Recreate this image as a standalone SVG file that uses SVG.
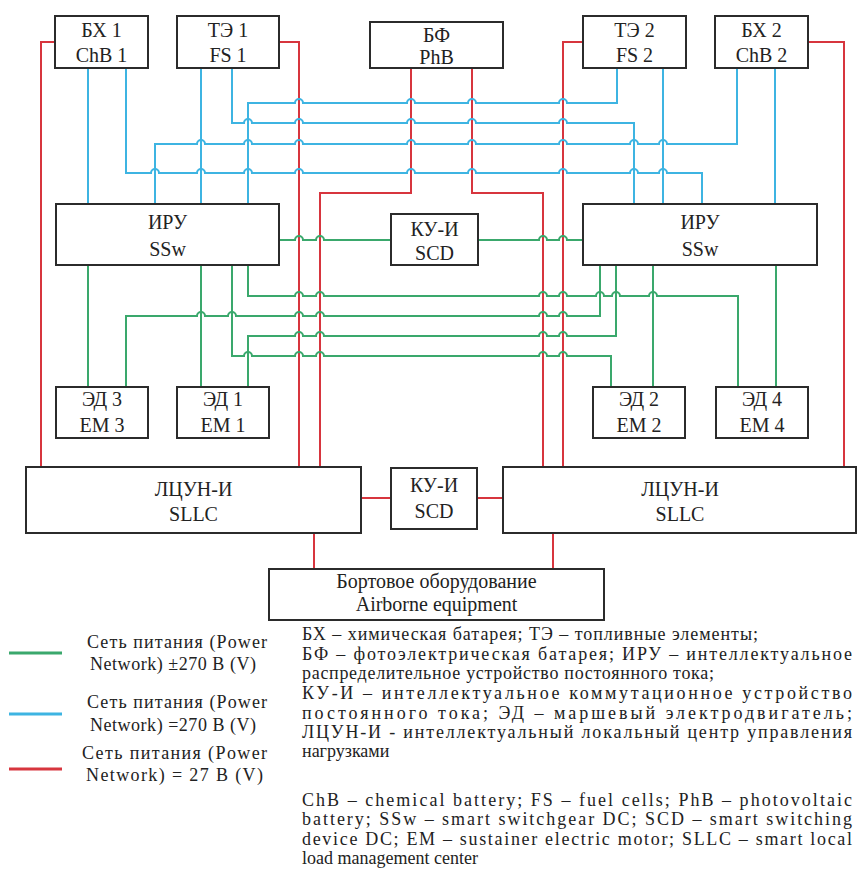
<svg xmlns="http://www.w3.org/2000/svg" width="858" height="889" viewBox="0 0 858 889">
<style>
.box{fill:#fff;stroke:#2b2b2b;stroke-width:2}
.lbl{font-size:20px;text-anchor:middle;fill:#222}
.leg{font-size:18px;fill:#222}
.r{fill:none;stroke:#d7353e;stroke-width:2}
.b{fill:none;stroke:#3db4e2;stroke-width:2}
.g{fill:none;stroke:#3aa86c;stroke-width:2}
</style>
<rect width="858" height="889" fill="#fff"/>
<g id="connectors">
<g class="r">
<path d="M55,42 H41 V467"/>
<path d="M279,42 H299 V467"/>
<path d="M411,68 V193 H320 V467"/>
<path d="M472,68 V193 H543 V467"/>
<path d="M583,42 H563 V467"/>
<path d="M808,42 H844 V467"/>
<path d="M361,498 H391 M477,498 H503"/>
<path d="M314,533 V569 M553,533 V569"/>
</g>
<g class="b">
<path d="M88,68 V204"/>
<path d="M201,68 V204"/>
<path d="M663,68 V204"/>
<path d="M775,68 V204"/>
<path d="M126,68 V173 H151 a4,4 0 0 1 8,0 H197 a4,4 0 0 1 8,0 H244 a4,4 0 0 1 8,0 H295 a4,4 0 0 1 8,0 H407 a4,4 0 0 1 8,0 H468 a4,4 0 0 1 8,0 H559 a4,4 0 0 1 8,0 H630 a4,4 0 0 1 8,0 H659 a4,4 0 0 1 8,0 H702 V204"/>
<path d="M232,68 V123 H244 a4,4 0 0 1 8,0 H295 a4,4 0 0 1 8,0 H407 a4,4 0 0 1 8,0 H468 a4,4 0 0 1 8,0 H559 a4,4 0 0 1 8,0 H634 V204"/>
<path d="M248,204 V103 H295 a4,4 0 0 1 8,0 H407 a4,4 0 0 1 8,0 H468 a4,4 0 0 1 8,0 H559 a4,4 0 0 1 8,0 H617 V68"/>
<path d="M155,204 V144 H197 a4,4 0 0 1 8,0 H244 a4,4 0 0 1 8,0 H295 a4,4 0 0 1 8,0 H407 a4,4 0 0 1 8,0 H468 a4,4 0 0 1 8,0 H559 a4,4 0 0 1 8,0 H630 a4,4 0 0 1 8,0 H659 a4,4 0 0 1 8,0 H737 V68"/>
</g>
<g class="g">
<path d="M279,240 H295 a4,4 0 0 1 8,0 H316 a4,4 0 0 1 8,0 H391"/>
<path d="M478,240 H539 a4,4 0 0 1 8,0 H559 a4,4 0 0 1 8,0 H583"/>
<path d="M88,265 V387"/>
<path d="M201,265 V387"/>
<path d="M653,265 V387"/>
<path d="M776,265 V387"/>
<path d="M126,387 V316 H197 a4,4 0 0 1 8,0 H228 a4,4 0 0 1 8,0 H295 a4,4 0 0 1 8,0 H316 a4,4 0 0 1 8,0 H539 a4,4 0 0 1 8,0 H559 a4,4 0 0 1 8,0 H600 V265"/>
<path d="M232,265 V356 H244 a4,4 0 0 1 8,0 H295 a4,4 0 0 1 8,0 H316 a4,4 0 0 1 8,0 H539 a4,4 0 0 1 8,0 H559 a4,4 0 0 1 8,0 H611 V387"/>
<path d="M248,265 V296 H295 a4,4 0 0 1 8,0 H316 a4,4 0 0 1 8,0 H539 a4,4 0 0 1 8,0 H559 a4,4 0 0 1 8,0 H596 a4,4 0 0 1 8,0 H612 a4,4 0 0 1 8,0 H649 a4,4 0 0 1 8,0 H738 V387"/>
<path d="M248,387 V336 H295 a4,4 0 0 1 8,0 H316 a4,4 0 0 1 8,0 H539 a4,4 0 0 1 8,0 H559 a4,4 0 0 1 8,0 H616 V265"/>
</g>
</g>
<g font-family="Liberation Serif, Times New Roman, serif">
<g id="bx1"><rect class="box" x="55" y="16" width="93" height="52"/><text class="lbl" x="101.5" y="37">БХ 1</text><text class="lbl" x="101.5" y="62">ChB 1</text></g>
<g id="te1"><rect class="box" x="177" y="16" width="102" height="52"/><text class="lbl" x="228" y="37">ТЭ 1</text><text class="lbl" x="228" y="62">FS 1</text></g>
<g id="bf"><rect class="box" x="370" y="22" width="133" height="46"/><text class="lbl" x="436.5" y="42">БФ</text><text class="lbl" x="436.5" y="64">PhB</text></g>
<g id="te2"><rect class="box" x="583" y="16" width="103" height="52"/><text class="lbl" x="634.5" y="37">ТЭ 2</text><text class="lbl" x="634.5" y="62">FS 2</text></g>
<g id="bx2"><rect class="box" x="715" y="16" width="93" height="52"/><text class="lbl" x="761.5" y="37">БХ 2</text><text class="lbl" x="761.5" y="62">ChB 2</text></g>
<g id="iru1"><rect class="box" x="56" y="204" width="223" height="61"/><text class="lbl" x="167.5" y="229">ИРУ</text><text class="lbl" x="167.5" y="256">SSw</text></g>
<g id="ku1"><rect class="box" x="391" y="214" width="87" height="51"/><text class="lbl" x="434.5" y="236">КУ-И</text><text class="lbl" x="434.5" y="260">SCD</text></g>
<g id="iru2"><rect class="box" x="583" y="204" width="234" height="61"/><text class="lbl" x="700" y="229">ИРУ</text><text class="lbl" x="700" y="256">SSw</text></g>
<g id="ed3"><rect class="box" x="56" y="387" width="92" height="51"/><text class="lbl" x="102" y="406">ЭД 3</text><text class="lbl" x="102" y="432">EM 3</text></g>
<g id="ed1"><rect class="box" x="177" y="387" width="92" height="51"/><text class="lbl" x="223" y="406">ЭД 1</text><text class="lbl" x="223" y="432">EM 1</text></g>
<g id="ed2"><rect class="box" x="593" y="387" width="92" height="51"/><text class="lbl" x="639" y="406">ЭД 2</text><text class="lbl" x="639" y="432">EM 2</text></g>
<g id="ed4"><rect class="box" x="716" y="387" width="92" height="51"/><text class="lbl" x="762" y="406">ЭД 4</text><text class="lbl" x="762" y="432">EM 4</text></g>
<g id="sllc1"><rect class="box" x="26" y="467" width="335" height="66"/><text class="lbl" x="193.5" y="496">ЛЦУН-И</text><text class="lbl" x="193.5" y="521">SLLC</text></g>
<g id="ku2"><rect class="box" x="391" y="468" width="86" height="61"/><text class="lbl" x="434" y="492">КУ-И</text><text class="lbl" x="434" y="518">SCD</text></g>
<g id="sllc2"><rect class="box" x="503" y="467" width="353" height="66"/><text class="lbl" x="680" y="496">ЛЦУН-И</text><text class="lbl" x="680" y="521">SLLC</text></g>
<g id="airborne"><rect class="box" x="269" y="569" width="335" height="51"/><text class="lbl" x="436.5" y="588" font-size="18">Бортовое оборудование</text><text class="lbl" x="436.5" y="611" font-size="18">Airborne equipment</text></g>
<g id="legend">
<path d="M9,653 H62" fill="none" stroke="#3aa86c" stroke-width="3"/>
<path d="M9,714 H62" fill="none" stroke="#3db4e2" stroke-width="3"/>
<path d="M9,769 H62" fill="none" stroke="#d7353e" stroke-width="3"/>
<text class="leg" x="87" y="648" textLength="180">Сеть питания (Power</text>
<text class="leg" x="90" y="670" textLength="166">Network) ±270 В (V)</text>
<text class="leg" x="87" y="708" textLength="180">Сеть питания (Power</text>
<text class="leg" x="90" y="731" textLength="166">Network) =270 В (V)</text>
<text class="leg" x="82" y="759" textLength="185">Сеть питания (Power</text>
<text class="leg" x="86" y="781" textLength="177">Network) = 27 В (V)</text>
</g>
<g id="description" class="leg">
<text x="302" y="640" textLength="456">БХ – химическая батарея; ТЭ – топливные элементы;</text>
<text x="302" y="660" textLength="550">БФ – фотоэлектрическая батарея; ИРУ – интеллектуальное</text>
<text x="302" y="679" textLength="412">распределительное устройство постоянного тока;</text>
<text x="302" y="699" textLength="550">КУ-И – интеллектуальное коммутационное устройство</text>
<text x="302" y="719" textLength="550">постоянного тока; ЭД – маршевый электродвигатель;</text>
<text x="302" y="738" textLength="550">ЛЦУН-И - интеллектуальный локальный центр управления</text>
<text x="302" y="757">нагрузками</text>
<text x="302" y="806" textLength="550">ChB – chemical battery; FS – fuel cells; PhB – photovoltaic</text>
<text x="302" y="825" textLength="550">battery; SSw – smart switchgear DC; SCD – smart switching</text>
<text x="302" y="845" textLength="550">device DC; EM – sustainer electric motor; SLLC – smart local</text>
<text x="302" y="864">load management center</text>
</g>
</g>
</svg>
